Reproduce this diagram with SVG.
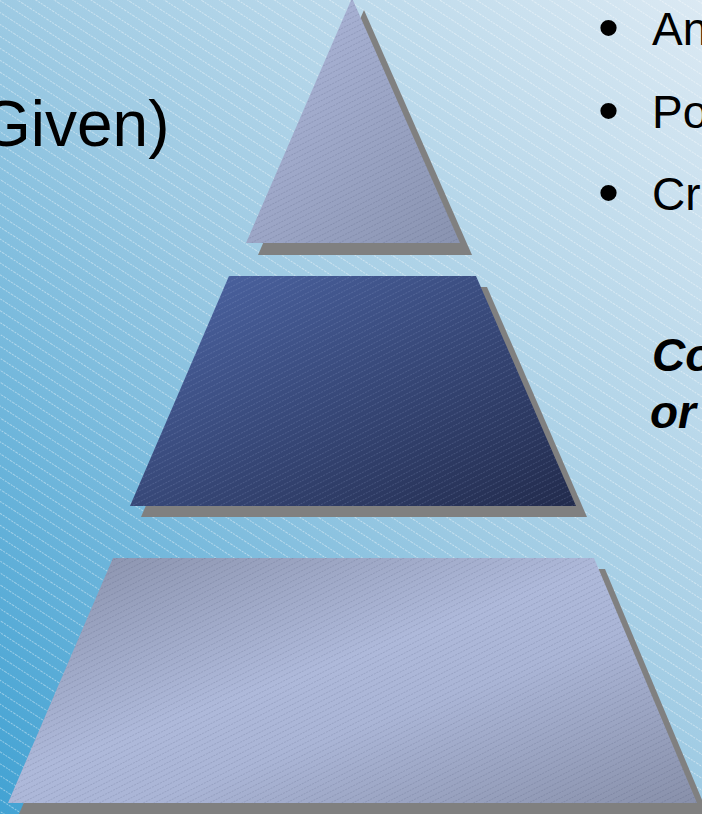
<svg xmlns="http://www.w3.org/2000/svg" width="702" height="814" viewBox="0 0 702 814">
  <style>
    .t { font-family: "Liberation Sans", Arial, sans-serif; fill: #000; }
    .shadow { fill: #808080; }
  </style>
  <defs>
    <linearGradient id="bg" x1="0" y1="1" x2="1" y2="0">
      <stop offset="0" stop-color="#42a2d3"/>
      <stop offset="0.5" stop-color="#9dcae3"/>
      <stop offset="1" stop-color="#dbe9f3"/>
    </linearGradient>
    <pattern id="bgLines" width="10" height="10" patternUnits="userSpaceOnUse" patternTransform="rotate(33)">
      <line x1="0" y1="0.5" x2="10" y2="0.5" stroke="#ffffff" stroke-width="1" stroke-opacity="0.4" stroke-dasharray="2 1"/>
    </pattern>
    <pattern id="shapeLines" width="6" height="5" patternUnits="userSpaceOnUse" patternTransform="rotate(-27)">
      <line x1="0" y1="0.5" x2="6" y2="0.5" stroke="#1a2340" stroke-width="1" stroke-opacity="0.12" stroke-dasharray="2 1"/>
    </pattern>
    <pattern id="shapeLinesLight" width="6" height="5" patternUnits="userSpaceOnUse" patternTransform="rotate(-27)">
      <line x1="0" y1="0.5" x2="6" y2="0.5" stroke="#a8b8e0" stroke-width="1" stroke-opacity="0.18" stroke-dasharray="2 1"/>
    </pattern>
    <linearGradient id="gTop" x1="0" y1="0" x2="1" y2="1">
      <stop offset="0" stop-color="#b0bade"/>
      <stop offset="1" stop-color="#8993b0"/>
    </linearGradient>
    <linearGradient id="gMid" x1="0" y1="0" x2="1" y2="1">
      <stop offset="0" stop-color="#4d66a6"/>
      <stop offset="1" stop-color="#222b4c"/>
    </linearGradient>
    <linearGradient id="gBot" x1="0" y1="0" x2="1" y2="1">
      <stop offset="0" stop-color="#8890aa"/>
      <stop offset="0.45" stop-color="#aeb9da"/>
      <stop offset="0.6" stop-color="#aab5d6"/>
      <stop offset="1" stop-color="#8890aa"/>
    </linearGradient>
  </defs>

  <g id="background">
    <rect x="0" y="0" width="702" height="814" fill="url(#bg)"/>
    <rect x="0" y="0" width="702" height="814" fill="url(#bgLines)"/>
  </g>

  <g id="connectors"/>

  <g id="node-top">
    <polygon class="shadow" points="364,10 472,255 258,255"/>
    <polygon points="352,-2 460,243 246,243" fill="url(#gTop)"/>
    <polygon points="352,-2 460,243 246,243" fill="url(#shapeLines)"/>
  </g>

  <g id="node-middle">
    <polygon class="shadow" points="240,287 487,287 587,517 141,517"/>
    <polygon points="229,276 476,276 576,506 130,506" fill="url(#gMid)"/>
    <polygon points="229,276 476,276 576,506 130,506" fill="url(#shapeLinesLight)"/>
  </g>

  <g id="node-bottom">
    <polygon class="shadow" points="124,569 605,569 708,814 19,814"/>
    <polygon points="113,558 594,558 697,803 8,803" fill="url(#gBot)"/>
    <polygon points="113,558 594,558 697,803 8,803" fill="url(#shapeLines)"/>
  </g>

  <g id="label-left">
    <text class="t" x="-19" y="146" font-size="64">Given)</text>
  </g>

  <g id="bullets">
    <text class="t" x="598" y="48" font-size="60">•</text>
    <text class="t" x="652" y="45" font-size="46">An</text>
    <text class="t" x="598" y="131" font-size="60">•</text>
    <text class="t" x="652" y="128" font-size="46">Po</text>
    <text class="t" x="598" y="213" font-size="60">•</text>
    <text class="t" x="652" y="210" font-size="46">Cr</text>
  </g>

  <g id="note">
    <text class="t" x="652" y="371" font-size="46" font-weight="bold" font-style="italic">Co</text>
    <text class="t" x="650" y="428" font-size="46" font-weight="bold" font-style="italic">or</text>
  </g>
</svg>
